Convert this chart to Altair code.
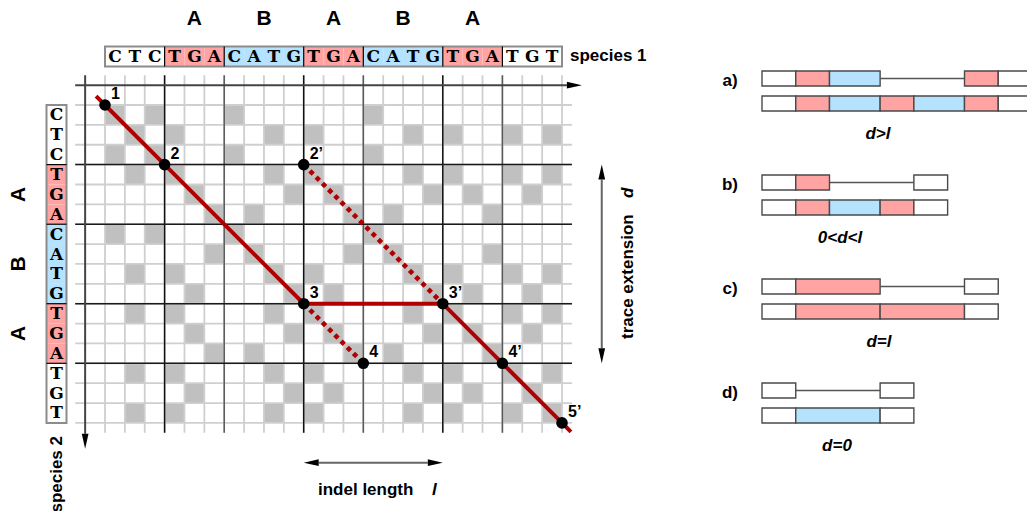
import altair as alt
import pandas as pd

W, H = 1027, 511

# ---- sequences and their repeat blocks ----
species1 = "CTCTGACATGTGACATGTGATGT"
species2 = "CTCTGACATGTGATGT"
blocks1 = ["", "A", "B", "A", "B", "A", ""]
sizes1 = [3, 3, 4, 3, 4, 3, 3]
blocks2 = ["", "A", "B", "A", ""]
sizes2 = [3, 3, 4, 3, 3]

# ---- alignment trace in dot-plot cells (column: species 1, row: species 2) ----
node_names = ["1", "2", "3", "2\u2019", "3\u2019", "4", "4\u2019", "5\u2019"]
node_cols = [0, 3, 10, 10, 17, 13, 20, 23]
node_rows = [0, 3, 10, 3, 10, 13, 13, 16]
solid_trace = ["1", "2", "3", "3\u2019", "4\u2019", "5\u2019"]
dotted_traces = [["2\u2019", "3\u2019"], ["3", "4"]]

# ---- inset sketches: segment kind and width in block units ----
panel_names = ["a)", "b)", "c)", "d)"]
panel_rules = ["d>l", "0<d<l", "d=l", "d=0"]
panel_top = [
    [("end", 1), ("A", 1), ("B", 1.5), ("gap", 2.5), ("A", 1), ("end", 1)],
    [("end", 1), ("A", 1), ("gap", 2.5), ("end", 1)],
    [("end", 1), ("A", 2.5), ("gap", 2.5), ("end", 1)],
    [("end", 1), ("gap", 2.5), ("end", 1)],
]
panel_bottom = [
    [("end", 1), ("A", 1), ("B", 1.5), ("A", 1), ("B", 1.5), ("A", 1), ("end", 1)],
    [("end", 1), ("A", 1), ("B", 1.5), ("A", 1), ("end", 1)],
    [("end", 1), ("A", 2.5), ("A", 2.5), ("end", 1)],
    [("end", 1), ("B", 2.5), ("end", 1)],
]

# ---- styling / layout ----
FILL = {"A": "#ffa3a3", "B": "#b5e2ff", "": "#ffffff", "end": "#ffffff"}
RED = "#b00000"
SANS = "Liberation Sans"
SEQ_FONT = "DejaVu Serif"
GX0, GY0, CELL = 105.0, 105.0, 19.87
P_X0, P_UNIT, P_Y0, P_STEP, P_BAR, P_GAP = 762.0, 33.75, 71.0, 104.0, 15.0, 25.0
rule_label_x = [878, 840, 879, 837]


def gx(c):
    return GX0 + c * CELL


def gy(r):
    return GY0 + r * CELL


xs = alt.Scale(domain=[0, W], range=[0, W])
ys = alt.Scale(domain=[0, H], range=[0, H])


def ex(f):
    return alt.X(f, type="quantitative", scale=xs, axis=None)


def ey(f):
    return alt.Y(f, type="quantitative", scale=ys, axis=None)


def rects(df, **mk):
    enc = dict(x=ex("x"), x2=alt.X2("x2"), y=ey("y"), y2=alt.Y2("y2"))
    if "fill" in df:
        enc["fill"] = alt.Fill("fill:N", scale=None)
    return alt.Chart(df).mark_rect(**mk).encode(**enc)


def rules(df, **mk):
    enc = dict(x=ex("x"), x2=alt.X2("x2"), y=ey("y"), y2=alt.Y2("y2"))
    if "color" in df:
        enc["color"] = alt.Color("color:N", scale=None)
    if "w" in df:
        enc["strokeWidth"] = alt.StrokeWidth("w:Q", scale=None)
    return alt.Chart(df).mark_rule(**mk).encode(**enc)


def texts(df, **mk):
    return alt.Chart(df).mark_text(**mk).encode(ex("x"), ey("y"), text="text:N")


layers = []

# dot-plot match cells
cells = [dict(x=gx(j), x2=gx(j + 1), y=gy(i), y2=gy(i + 1))
         for i, a in enumerate(species2) for j, b in enumerate(species1) if a == b]
layers.append(rects(pd.DataFrame(cells), color="#c0c0c0"))

# minor grid
minor = [dict(x=gx(c), x2=gx(c), y=gy(-1.5), y2=gy(16.5)) for c in range(len(species1) + 1)]
minor += [dict(x=gx(-1.5), x2=gx(23.5), y=gy(r), y2=gy(r)) for r in range(len(species2) + 1)]
layers.append(rules(pd.DataFrame(minor), color="#cfcfcf", strokeWidth=1.8))


# block boundaries
def cuts(sizes):
    out, s = [], 0
    for n in sizes[:-1]:
        s += n
        out.append(s)
    return out


major = []
for k, c in enumerate(cuts(sizes1)):
    major.append(dict(x=gx(c), x2=gx(c), y=gy(-1.5), y2=gy(16.5),
                      color="#111111" if blocks1[k + 1] == "A" else "#5a5a5a"))
for c in cuts(sizes2):
    major.append(dict(x=gx(-1.5), x2=gx(23.5), y=gy(c), y2=gy(c), color="#1a1a1a"))
layers.append(rules(pd.DataFrame(major), strokeWidth=1.5))

# axes and dimension arrows
arrow_len = 15
axis_lines = pd.DataFrame([
    dict(x=gx(-1.5), x2=gx(24.0) - arrow_len, y=gy(-1), y2=gy(-1), color="#444444"),
    dict(x=gx(-1), x2=gx(-1), y=gy(-1.5), y2=gy(17.3) - arrow_len, color="#444444"),
    dict(x=gx(25), x2=gx(25), y=gy(3) + arrow_len, y2=gy(13) - arrow_len, color="#666666"),
    dict(x=gx(10) + arrow_len, x2=gx(17) - arrow_len, y=gy(18), y2=gy(18), color="#666666"),
])
layers.append(rules(axis_lines, strokeWidth=2))

heads = {
    "right": ("M-1,-0.45L1,0L-1,0.45Z", [(gx(24.0) - arrow_len / 2, gy(-1)), (gx(17) - arrow_len / 2, gy(18))]),
    "left": ("M1,-0.45L-1,0L1,0.45Z", [(gx(10) + arrow_len / 2, gy(18))]),
    "down": ("M-0.45,-1L0,1L0.45,-1Z", [(gx(-1), gy(17.3) - arrow_len / 2), (gx(25), gy(13) - arrow_len / 2)]),
    "up": ("M-0.45,1L0,-1L0.45,1Z", [(gx(25), gy(3) + arrow_len / 2)]),
}
for path, pts in heads.values():
    df = pd.DataFrame([dict(x=p[0], y=p[1]) for p in pts])
    layers.append(alt.Chart(df).mark_point(shape=path, filled=True, size=arrow_len ** 2,
                                           color="#000000", opacity=1).encode(ex("x"), ey("y")))


# sequence strips
def strip_cells(seq, blocks, sizes, horizontal):
    kinds = [b for b, n in zip(blocks, sizes) for _ in range(n)]
    rows = []
    for i, (ch, kind) in enumerate(zip(seq, kinds)):
        if horizontal:
            rows.append(dict(x=gx(i), x2=gx(i + 1), y=46.5, y2=66.5, fill=FILL[kind],
                             cx=gx(i + 0.5), cy=57.0, text=ch))
        else:
            rows.append(dict(x=46.5, x2=66.5, y=gy(i), y2=gy(i + 1), fill=FILL[kind],
                             cx=56.5, cy=gy(i + 0.5) + 0.5, text=ch))
    return pd.DataFrame(rows)


s1 = strip_cells(species1, blocks1, sizes1, True)
s2 = strip_cells(species2, blocks2, sizes2, False)
for s in (s1, s2):
    layers.append(rects(s))
layers.append(rects(pd.DataFrame([dict(x=gx(0), x2=gx(23), y=46.5, y2=66.5),
                                  dict(x=46.5, x2=66.5, y=gy(0), y2=gy(16))]),
                    fillOpacity=0, stroke="#8c8c8c", strokeWidth=2))
seps = [dict(x=gx(c), x2=gx(c), y=46.5, y2=66.5) for c in cuts(sizes1)]
seps += [dict(x=46.5, x2=66.5, y=gy(c), y2=gy(c)) for c in cuts(sizes2)]
layers.append(rules(pd.DataFrame(seps), color="#000000", strokeWidth=1.2))
for s in (s1, s2):
    layers.append(alt.Chart(s).mark_text(font=SEQ_FONT, fontWeight="bold", fontSize=17,
                                         baseline="middle", color="#000000")
                  .encode(ex("cx"), ey("cy"), text="text:N"))

# block names
hdr = []
start = 0
for b, n in zip(blocks1, sizes1):
    if b:
        hdr.append(dict(x=gx(start + n / 2), y=19, text=b))
    start += n
layers.append(texts(pd.DataFrame(hdr), font=SANS, fontWeight="bold", fontSize=21, baseline="middle"))
side = []
start = 0
for b, n in zip(blocks2, sizes2):
    if b:
        side.append(dict(x=19, y=gy(start + n / 2), text=b))
    start += n
layers.append(texts(pd.DataFrame(side), font=SANS, fontWeight="bold", fontSize=21,
                    baseline="middle", angle=270))

# trace lines
pos = {n: (gx(c), gy(r)) for n, c, r in zip(node_names, node_cols, node_rows)}
ext = 0.45 * CELL
solid = [(pos["1"][0] - ext, pos["1"][1] - ext)] + [pos[n] for n in solid_trace] + \
        [(pos["5\u2019"][0] + ext, pos["5\u2019"][1] + ext)]
sdf = pd.DataFrame([dict(x=p[0], y=p[1], o=k) for k, p in enumerate(solid)])
layers.append(alt.Chart(sdf).mark_line(color=RED, strokeWidth=4, strokeJoin="miter")
              .encode(ex("x"), ey("y"), order="o:Q"))
drows = []
for k, tr in enumerate(dotted_traces):
    for o, n in enumerate(tr):
        drows.append(dict(x=pos[n][0], y=pos[n][1], o=o, seg=k))
layers.append(alt.Chart(pd.DataFrame(drows))
              .mark_line(color=RED, strokeWidth=4.6, strokeDash=[4.6, 4.2], strokeCap="butt")
              .encode(ex("x"), ey("y"), order="o:Q", detail="seg:N"))

# trace nodes
ndf = pd.DataFrame([dict(x=pos[n][0], y=pos[n][1], text=n) for n in node_names])
layers.append(alt.Chart(ndf).mark_circle(size=135, color="#000000", opacity=1).encode(ex("x"), ey("y")))
layers.append(texts(ndf, font=SANS, fontWeight="bold", fontSize=16, align="left",
                    baseline="alphabetic", dx=6, dy=-6))

# axis titles
layers.append(texts(pd.DataFrame([dict(x=570, y=56, text="species 1")]),
                    font=SANS, fontWeight="bold", fontSize=17, align="left", baseline="middle"))
layers.append(texts(pd.DataFrame([dict(x=57, y=436, text="species 2")]),
                    font=SANS, fontWeight="bold", fontSize=17, align="right", baseline="middle", angle=270))
layers.append(texts(pd.DataFrame([dict(x=628, y=339, text="trace extension")]),
                    font=SANS, fontWeight="bold", fontSize=17, align="left", baseline="middle", angle=270))
layers.append(texts(pd.DataFrame([dict(x=628, y=198, text="d")]),
                    font=SANS, fontWeight="bold", fontStyle="italic", fontSize=17, align="left",
                    baseline="middle", angle=270))
layers.append(texts(pd.DataFrame([dict(x=318, y=495, text="indel length")]),
                    font=SANS, fontWeight="bold", fontSize=17, align="left", baseline="alphabetic"))
layers.append(texts(pd.DataFrame([dict(x=432, y=495, text="l")]),
                    font=SANS, fontWeight="bold", fontStyle="italic", fontSize=17, align="left",
                    baseline="alphabetic"))

# inset sketches
seg_rows, gap_rows, lab_rows, rule_rows = [], [], [], []
for k in range(len(panel_names)):
    top = P_Y0 + k * P_STEP
    for row, segs in enumerate((panel_top[k], panel_bottom[k])):
        y0 = top + row * P_GAP
        x = P_X0
        for kind, u in segs:
            x2 = x + u * P_UNIT
            if kind == "gap":
                gap_rows.append(dict(x=x, x2=x2, y=y0 + P_BAR / 2, y2=y0 + P_BAR / 2))
            else:
                seg_rows.append(dict(x=x, x2=x2, y=y0, y2=y0 + P_BAR, fill=FILL[kind]))
            x = x2
    lab_rows.append(dict(x=730, y=top + 10, text=panel_names[k]))
    rule_rows.append(dict(x=rule_label_x[k], y=top + 63, text=panel_rules[k]))
layers.append(rules(pd.DataFrame(gap_rows), color="#555555", strokeWidth=1.5))
layers.append(rects(pd.DataFrame(seg_rows), stroke="#4a4a4a", strokeWidth=1.4))
layers.append(texts(pd.DataFrame(lab_rows), font=SANS, fontWeight="bold", fontSize=17, baseline="middle"))
layers.append(texts(pd.DataFrame(rule_rows), font=SANS, fontWeight="bold", fontStyle="italic",
                    fontSize=17, baseline="middle"))

chart = alt.layer(*layers).properties(
    width=W, height=H, padding=0, autosize=alt.AutoSizeParams(type="none")
).configure_view(strokeWidth=0)

chart.save("out.html", embed_options={"renderer": "svg", "actions": False})
